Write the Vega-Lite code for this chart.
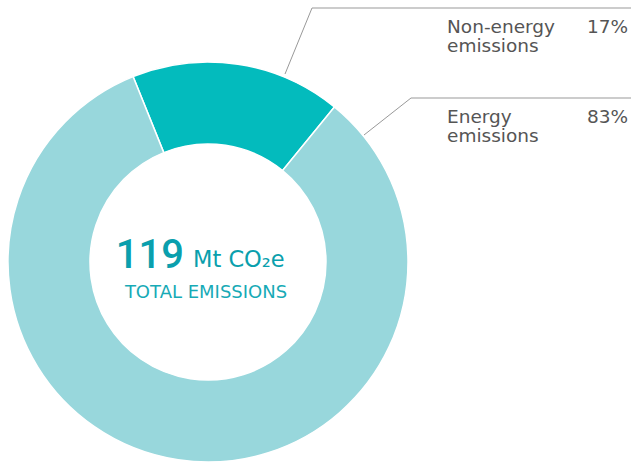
{
  "$schema": "https://vega.github.io/schema/vega-lite/v6.json",
  "width": 631,
  "height": 464,
  "autosize": "none",
  "padding": 0,
  "background": "white",
  "config": {"view": {"stroke": null}},
  "data": {"values": [{}]},
  "resolve": {"scale": {"color": "independent", "theta": "independent"}},
  "layer": [
    {
      "data": {"values": [
        {"category": "Non-energy emissions", "share": 17, "ord": 1},
        {"category": "Energy emissions", "share": 83, "ord": 2}
      ]},
      "mark": {"type": "arc", "outerRadius": 200, "innerRadius": 118, "stroke": "white", "strokeWidth": 1.5},
      "encoding": {
        "theta": {"field": "share", "type": "quantitative", "stack": true, "scale": {"range": [-0.384, 5.899]}},
        "order": {"field": "ord", "type": "quantitative"},
        "color": {"field": "category", "type": "nominal", "legend": null,
          "scale": {"domain": ["Non-energy emissions", "Energy emissions"], "range": ["#03BBBD", "#98D7DC"]}},
        "x": {"datum": 208, "type": "quantitative", "scale": {"domain": [0, 631], "nice": false, "zero": false}, "axis": null},
        "y": {"datum": 262, "type": "quantitative", "scale": {"domain": [0, 464], "nice": false, "zero": false, "reverse": true}, "axis": null}
      }
    },
    {
      "mark": {"type": "text", "text": "119", "align": "right", "baseline": "alphabetic", "fontSize": 40, "fontWeight": 500, "font": "Roboto", "color": "#0A9FAD"},
      "encoding": {"x": {"datum": 184, "type": "quantitative"}, "y": {"datum": 268, "type": "quantitative"}}
    },
    {
      "mark": {"type": "text", "text": "Mt CO₂e", "align": "left", "baseline": "alphabetic", "fontSize": 22.5, "fontWeight": "normal", "font": "DejaVu Sans", "color": "#0A9FAD"},
      "encoding": {"x": {"datum": 193, "type": "quantitative"}, "y": {"datum": 267, "type": "quantitative"}}
    },
    {
      "mark": {"type": "text", "text": "TOTAL EMISSIONS", "align": "center", "baseline": "alphabetic", "fontSize": 18, "font": "DejaVu Sans", "fontWeight": "normal", "color": "#17AAB6"},
      "encoding": {"x": {"datum": 206, "type": "quantitative"}, "y": {"datum": 298, "type": "quantitative"}}
    },
    {
      "mark": {"type": "rule", "color": "#999999", "strokeWidth": 1},
      "encoding": {"x": {"datum": 285, "type": "quantitative"}, "y": {"datum": 74, "type": "quantitative"}, "x2": {"datum": 312}, "y2": {"datum": 8}}
    },
    {
      "mark": {"type": "rule", "color": "#999999", "strokeWidth": 1},
      "encoding": {"x": {"datum": 312, "type": "quantitative"}, "y": {"datum": 8, "type": "quantitative"}, "x2": {"datum": 631}, "y2": {"datum": 8}}
    },
    {
      "mark": {"type": "rule", "color": "#999999", "strokeWidth": 1},
      "encoding": {"x": {"datum": 364, "type": "quantitative"}, "y": {"datum": 135, "type": "quantitative"}, "x2": {"datum": 411}, "y2": {"datum": 98}}
    },
    {
      "mark": {"type": "rule", "color": "#999999", "strokeWidth": 1},
      "encoding": {"x": {"datum": 411, "type": "quantitative"}, "y": {"datum": 98, "type": "quantitative"}, "x2": {"datum": 631}, "y2": {"datum": 98}}
    },
    {
      "mark": {"type": "text", "text": ["Non-energy", "emissions"], "align": "left", "baseline": "alphabetic", "lineHeight": 19, "fontSize": 18.5, "font": "DejaVu Sans", "fontWeight": "normal", "color": "#555555"},
      "encoding": {"x": {"datum": 447, "type": "quantitative"}, "y": {"datum": 33, "type": "quantitative"}}
    },
    {
      "mark": {"type": "text", "text": "17%", "align": "right", "baseline": "alphabetic", "fontSize": 18.5, "font": "DejaVu Sans", "fontWeight": "normal", "color": "#555555"},
      "encoding": {"x": {"datum": 628, "type": "quantitative"}, "y": {"datum": 33, "type": "quantitative"}}
    },
    {
      "mark": {"type": "text", "text": ["Energy", "emissions"], "align": "left", "baseline": "alphabetic", "lineHeight": 19, "fontSize": 18.5, "font": "DejaVu Sans", "fontWeight": "normal", "color": "#555555"},
      "encoding": {"x": {"datum": 447, "type": "quantitative"}, "y": {"datum": 123, "type": "quantitative"}}
    },
    {
      "mark": {"type": "text", "text": "83%", "align": "right", "baseline": "alphabetic", "fontSize": 18.5, "font": "DejaVu Sans", "fontWeight": "normal", "color": "#555555"},
      "encoding": {"x": {"datum": 628, "type": "quantitative"}, "y": {"datum": 123, "type": "quantitative"}}
    }
  ]
}
